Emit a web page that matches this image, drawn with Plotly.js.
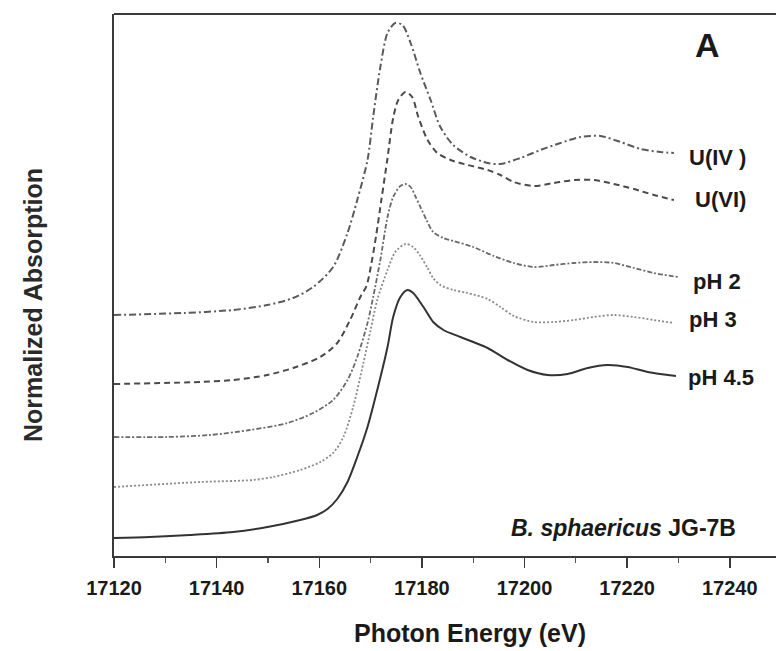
<!DOCTYPE html>
<html>
<head>
<meta charset="utf-8">
<script src="https://cdn.plot.ly/plotly-3.0.1.min.js"></script>
<style>html,body{margin:0;padding:0;background:#fff;overflow:hidden}#chart{width:776px;height:651px}</style>
</head>
<body>
<div id="chart"></div>
<script>
// Photon energy (eV) and normalized absorption (offset for display)
const energyUIV = [17120,17133.5,17143.2,17149.9,17154.9,17158.8,17162.7,17165.5,17167.4,17169.4,17170.5,17171.9,17173.3,17174.8,17176.2,17177.8,17179.7,17181.7,17183.6,17186.1,17189.5,17192.8,17195.3,17199.2,17203.1,17207.0,17210.9,17214.8,17218.7,17222.6,17226.5,17229.1];
const absUIV    = [2.41,2.43,2.46,2.51,2.58,2.69,2.89,3.23,3.56,3.96,4.39,4.89,5.23,5.33,5.31,5.13,4.83,4.56,4.29,4.11,3.99,3.93,3.92,3.98,4.06,4.13,4.19,4.20,4.14,4.07,4.04,4.03];

const energyUVI = [17120,17136.8,17143.2,17149.9,17154.9,17160.2,17163.5,17166.0,17168.0,17169.2,17170.1,17171.1,17172.1,17173.3,17174.4,17175.4,17176.8,17178.1,17179.3,17181.1,17183.0,17185.6,17188.9,17192.8,17195.3,17197.9,17201.8,17205.7,17209.6,17213.5,17217.4,17221.3,17225.2,17229.1];
const absUVI    = [1.72,1.74,1.76,1.81,1.88,1.99,2.13,2.36,2.59,2.70,2.91,3.21,3.56,3.98,4.38,4.56,4.64,4.59,4.39,4.16,4.03,3.96,3.91,3.86,3.81,3.74,3.70,3.73,3.76,3.76,3.72,3.67,3.61,3.56];

const energyPH2 = [17120,17130.3,17138.7,17146.5,17153.8,17158.8,17162.7,17165.5,17167.4,17169.4,17170.5,17171.9,17173.3,17174.4,17175.8,17176.8,17177.8,17178.7,17179.7,17180.9,17182.2,17184.2,17186.1,17190.0,17194.0,17197.9,17201.8,17205.7,17209.6,17213.5,17217.4,17221.3,17225.2,17229.9];
const absPH2    = [1.19,1.19,1.21,1.26,1.33,1.43,1.56,1.76,1.99,2.33,2.59,2.96,3.39,3.59,3.70,3.72,3.69,3.60,3.49,3.36,3.24,3.18,3.15,3.09,3.00,2.93,2.89,2.91,2.93,2.94,2.93,2.88,2.83,2.79];

const energyPH3 = [17120,17136.8,17147.1,17151.0,17156.3,17160.2,17162.7,17164.7,17166.6,17168.6,17170.0,17171.3,17173.3,17174.8,17176.8,17178.3,17179.7,17181.1,17182.2,17183.6,17186.1,17188.9,17192.8,17195.3,17197.9,17201.8,17205.7,17209.6,17213.5,17217.4,17221.3,17225.2,17229.1];
const absPH3    = [0.69,0.74,0.76,0.79,0.86,0.94,1.03,1.19,1.49,1.93,2.26,2.56,2.86,3.04,3.12,3.09,3.00,2.88,2.78,2.71,2.66,2.63,2.57,2.49,2.40,2.34,2.34,2.36,2.39,2.41,2.39,2.36,2.33];

const energyPH45 = [17120,17127.0,17134.8,17143.2,17149.9,17156.3,17159.6,17161.6,17163.5,17165.5,17167.4,17169.4,17171.3,17173.3,17174.4,17175.8,17177.2,17178.3,17180.3,17182.2,17184.2,17187.5,17190.0,17192.8,17196.7,17200.6,17204.5,17208.4,17212.3,17216.2,17220.1,17224.0,17229.5];
const absPH45    = [0.18,0.19,0.21,0.24,0.29,0.36,0.41,0.47,0.57,0.74,0.99,1.29,1.66,2.09,2.39,2.59,2.66,2.63,2.49,2.34,2.26,2.19,2.14,2.08,1.96,1.86,1.81,1.82,1.88,1.91,1.89,1.84,1.80];

const seriesNames = ["U(IV )","U(VI)","pH 2","pH 3","pH 4.5"];
const xTickVals = [17120,17140,17160,17180,17200,17220,17240];
const xTickText = ["17120","17140","17160","17180","17200","17220","17240"];
const panelLabel = "A";
const strainLabel = "<i>B. sphaericus</i> JG-7B";

const xs = [energyUIV, energyUVI, energyPH2, energyPH3, energyPH45];
const ys = [absUIV, absUVI, absPH2, absPH3, absPH45];
const styles = [
  {color:"#5a5a5a", width:2, dash:"7px,3px,2px,3px"},
  {color:"#4a4a4a", width:2, dash:"6px,4px"},
  {color:"#6a6a6a", width:1.8, dash:"5px,2px,2px,2px"},
  {color:"#8a8a8a", width:1.8, dash:"2px,2px"},
  {color:"#333333", width:2, dash:"solid"}
];

const traces = xs.map((x,i)=>({
  x:x, y:ys[i], type:"scatter", mode:"lines", name:seriesNames[i],
  line:Object.assign({shape:"spline", smoothing:0.8}, styles[i]),
  showlegend:false, hoverinfo:"skip"
}));

const FONT = "Liberation Sans, Arial, sans-serif";
// end-of-line labels anchored at each series' last point
const annotations = seriesNames.map((n,i)=>({
  x: xs[i][xs[i].length-1], y: ys[i][ys[i].length-1], xref:"x", yref:"y",
  text:"<b>"+n+"</b>", showarrow:false, xanchor:"left", yanchor:"middle",
  xshift: (i===1?19:(i===4?10:13)), yshift: (i===0?-4:(i===2?-4:(i===3?4:(i===4?-1:1)))),
  font:{family:FONT, size:22, color:"#1a1a1a"}
}));

// fixed-position texts, given in page pixels then converted to paper fractions
const L=114, T=14, W=776-114, H=556-14;
function px2paper(px, py){ return {x:(px-L)/W, y:(556-py)/H}; }
const extra = [
  {px:707, py:45, text:"<b>"+panelLabel+"</b>", size:34, xa:"center"},
  {px:738, py:528, text:"<b>"+strainLabel+"</b>", size:23, xa:"right"},
  {px:470, py:633, text:"<b>Photon Energy (eV)</b>", size:25, xa:"center"},
  {px:33, py:305, text:"<b>Normalized Absorption</b>", size:25, xa:"center", angle:-90, color:"#2a2a2a"}
];
extra.forEach(e=>{
  const p = px2paper(e.px, e.py);
  annotations.push({x:p.x, y:p.y, xref:"paper", yref:"paper", text:e.text, showarrow:false,
    xanchor:e.xa, yanchor:"middle", textangle:e.angle||0,
    font:{family:FONT, size:e.size, color:e.color||"#1a1a1a"}});
});

const layout = {
  width:776, height:651,
  margin:{l:L, r:0, t:T, b:651-556, pad:0},
  paper_bgcolor:"#ffffff", plot_bgcolor:"#ffffff",
  font:{family:FONT, color:"#1a1a1a"},
  xaxis:{
    range:[17120,17249], showgrid:false, zeroline:false,
    showline:true, linecolor:"#3a3a3a", linewidth:2,
    ticks:"outside", ticklen:10, tickwidth:1.5, tickcolor:"#3a3a3a",
    tickvals:xTickVals, ticktext:xTickText, ticklabelstandoff:3,
    tickfont:{family:FONT, size:20, color:"#1a1a1a", weight:"bold"},
    minor:{dtick:10, tick0:17130, ticks:"outside", ticklen:5, tickwidth:1.2, tickcolor:"#555"}
  },
  yaxis:{
    range:[0,5.42], showgrid:false, zeroline:false, showticklabels:false,
    showline:true, linecolor:"#3a3a3a", linewidth:2, ticks:""
  },
  shapes:[{type:"line", xref:"paper", yref:"paper", x0:0, x1:1, y0:1, y1:1, line:{color:"#3a3a3a", width:2}}],
  annotations:annotations
};

Plotly.newPlot("chart", traces, layout, {staticPlot:true, displayModeBar:false});
</script>
</body>
</html>
